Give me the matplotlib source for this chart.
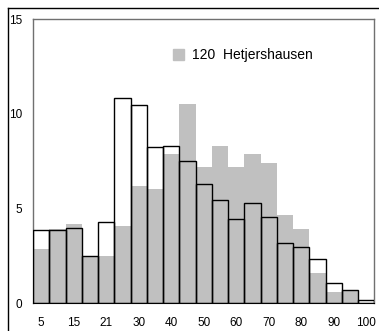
import matplotlib
matplotlib.use('Agg')
import matplotlib.pyplot as plt
from matplotlib.lines import Line2D
from matplotlib.patches import Rectangle

plt.rcParams['font.family'] = ['Liberation Sans', 'DejaVu Sans']

# bar heights, one per bin
gray_heights = [2.87, 3.91, 4.19, 2.48, 2.50, 4.08, 6.20, 6.04, 7.89, 10.51, 7.20,
                8.31, 7.20, 7.89, 7.41, 4.66, 3.92, 1.60, 0.60, 0.65, 0.0]
outline_heights = [3.86, 3.86, 3.96, 2.48, 4.28, 10.81, 10.46, 8.26, 8.31, 7.52, 6.29,
                   5.44, 4.44, 5.28, 4.54, 3.17, 2.99, 2.32, 1.06, 0.69, 0.16]
x_labels = ['5', '15', '21', '30', '40', '50', '60', '70', '80', '90', '100']
y_ticks = [0, 5, 10, 15]
legend_label = '120  Hetjershausen'

fig = plt.figure(figsize=(3.79, 3.31), dpi=100)
ax = fig.add_axes([33 / 379, 1 - 303.3 / 331, (374.3 - 33) / 379, (303.3 - 19) / 331])

pos = list(range(len(gray_heights)))
ax.bar(pos, gray_heights, width=1.0, color='#c0c0c0', linewidth=0, zorder=2)
ax.bar(pos, outline_heights, width=1.0, fill=False, edgecolor='black', linewidth=1.0, zorder=3)

ax.set_xlim(-0.5, len(pos) - 0.5)
ax.set_ylim(0, 15)
ax.set_xticks(pos[::2])
ax.set_xticklabels(x_labels)
ax.set_yticks(y_ticks)
ax.tick_params(length=0, labelsize=8.5)
ax.tick_params(axis='y', pad=8)
ax.tick_params(axis='x', pad=10)

for side in ['top', 'right', 'left']:
    ax.spines[side].set_color('#707070')
    ax.spines[side].set_linewidth(1.0)
ax.spines['bottom'].set_color('black')
ax.spines['bottom'].set_zorder(4)

# legend entry
fig.patches.append(Rectangle((173 / 379, 1 - 60 / 331), 11 / 379, 11 / 331,
                             transform=fig.transFigure, color='#c0c0c0'))
fig.text(192 / 379, 1 - 55 / 331, legend_label, fontsize=10, va='center', ha='left')

# outer frame lines
fig.add_artist(Line2D([8 / 379, 8 / 379], [0, 1 - 7.5 / 331], color='black', lw=1.0,
                      transform=fig.transFigure))
fig.add_artist(Line2D([8 / 379, 1], [1 - 7.5 / 331, 1 - 7.5 / 331], color='black', lw=1.0,
                      transform=fig.transFigure))

fig.savefig('out.png', dpi=100)
